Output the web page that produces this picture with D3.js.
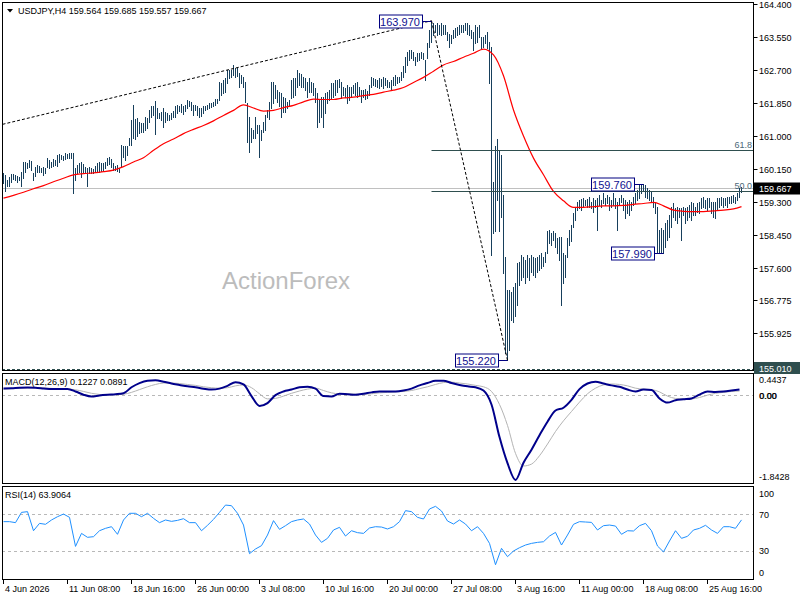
<!DOCTYPE html>
<html><head><meta charset="utf-8">
<script src="https://cdn.jsdelivr.net/npm/d3@7/dist/d3.min.js"></script>
<style>body{margin:0;background:#fff}svg{display:block}text{font-family:"Liberation Sans",Arial,sans-serif}</style>
</head><body>
<svg id="c" width="800" height="600"></svg>
<script>
const symbolTitle = "USDJPY,H4";
const lastOHLC = ["159.564", "159.685", "159.557", "159.667"];
const lastPrice = 159.667;

const barHigh = [
160.05,159.99,159.87,159.95,160.02,160.01,159.99,159.97,159.95,160.08,
160.34,160.34,160.31,160.38,160.36,160.05,160.21,160.24,160.23,160.17,
160.20,160.18,160.42,160.38,160.34,160.41,160.38,160.51,160.53,160.51,
160.49,160.55,160.54,160.57,160.55,160.55,160.17,160.25,160.31,160.34,
160.28,160.21,160.17,160.21,160.17,160.14,160.23,160.31,160.34,160.30,
160.31,160.34,160.42,160.45,160.40,160.30,160.23,160.25,160.17,160.77,
160.73,160.74,160.73,160.94,161.41,161.80,161.43,161.46,161.37,161.33,
161.34,161.50,161.46,161.67,161.77,161.76,161.90,161.71,161.60,161.63,
161.71,161.63,161.60,161.54,161.60,161.64,161.76,161.80,161.77,161.82,
161.77,161.80,161.93,161.89,
161.88,161.80,161.80,161.76,161.71,161.71,161.77,161.76,161.80,161.84,
161.86,161.88,161.94,161.94,162.40,162.37,162.44,162.49,162.70,162.70,
162.70,162.83,162.74,162.74,162.61,162.57,162.53,162.40,161.84,161.50,
161.20,161.15,161.50,161.28,161.28,161.15,161.37,161.54,161.67,161.88,
162.40,162.40,162.31,162.19,162.14,162.10,162.01,161.97,161.88,161.93,
162.44,162.49,162.49,162.70,162.61,162.60,162.53,162.49,162.40,162.49,
162.40,162.36,162.23,162.10,161.93,162.01,162.01,162.10,162.14,162.19,
162.36,162.36,162.44,162.44,162.46,162.40,162.27,162.23,162.31,162.27,
162.27,162.31,162.36,162.40,162.27,162.19,162.19,162.20,162.17,162.31,
162.53,162.49,
162.48,162.44,162.49,162.46,162.53,162.49,162.44,162.40,162.44,162.53,
162.57,162.53,162.53,162.66,162.79,163.04,163.17,163.22,163.22,163.17,
163.04,163.13,163.13,163.17,163.15,162.96,163.39,163.73,163.97,163.90,
163.86,163.90,163.86,163.90,163.86,163.86,163.69,163.64,163.60,163.73,
163.77,163.82,163.86,163.86,163.86,163.92,163.90,163.86,163.73,163.69,
163.86,163.82,163.86,163.56,163.56,163.60,163.69,163.43,163.30,
159.82,160.75,160.92,160.64,160.51,159.48,157.89,157.03,157.03,156.99,
157.12,157.20,157.72,157.76,157.93,157.89,157.81,157.93,157.85,157.93,
157.89,157.85,157.89,157.93,157.98,157.89,158.02,158.54,158.58,158.49,
158.54,158.49,158.36,158.41,158.41,
157.98,157.93,158.36,158.58,158.70,159.01,159.18,159.31,159.35,159.37,
159.40,159.35,159.37,159.44,159.31,159.40,159.35,159.40,159.48,159.35,
159.52,159.40,159.48,159.44,159.35,159.52,159.40,159.31,159.40,159.48,
159.40,159.35,159.31,159.35,159.31,159.44,159.52,159.61,159.74,159.74,
159.76,159.74,159.65,159.61,159.59,159.44,159.31,159.18,158.58,158.62,
158.58,158.75,158.84,158.97,159.18,159.27,159.14,159.18,159.14,159.14,
159.18,159.14,159.18,159.22,159.31,159.27,159.18,159.27,159.31,159.40,
159.44,159.35,159.40,159.40,159.31,159.31,159.31,159.40,159.40,159.44,
159.40,159.40,159.44,159.44,159.45,159.48,159.44,159.52,159.65,159.69
];
const barLow = [
159.78,159.57,159.70,159.70,159.82,159.88,159.87,159.82,159.87,159.70,
159.91,160.08,160.17,160.19,160.12,159.87,159.97,160.08,160.08,160.08,
159.99,160.04,160.21,160.17,160.21,160.23,160.25,160.23,160.34,160.40,
160.38,160.40,160.42,160.42,160.42,159.52,159.87,160.04,160.08,159.95,
160.04,160.04,159.70,160.04,160.04,160.04,160.06,160.11,160.08,160.11,
160.11,160.17,160.25,160.28,160.21,160.12,160.12,160.11,160.08,160.21,
160.47,160.38,160.51,160.77,160.77,160.94,160.91,161.00,161.07,161.11,
161.11,161.16,161.20,161.37,161.50,161.54,161.04,161.46,161.46,161.41,
161.24,161.37,161.41,161.41,161.43,161.48,161.50,161.60,161.65,161.63,
161.57,161.65,161.71,161.76,
161.67,161.54,161.67,161.54,161.50,161.51,161.58,161.67,161.69,161.71,
161.74,161.76,161.80,161.84,161.93,162.06,162.10,162.14,162.36,162.49,
162.53,162.57,162.53,162.55,162.25,162.36,162.27,161.88,160.85,160.60,
160.85,160.94,160.94,161.07,160.45,160.90,161.11,161.15,161.50,161.45,
161.71,161.84,161.97,161.88,161.76,161.50,161.63,161.63,161.71,161.76,
161.97,162.01,162.06,162.27,162.31,162.27,162.27,162.19,162.01,162.14,
162.14,162.06,161.88,161.24,161.37,161.50,161.24,161.58,161.84,161.93,
161.97,162.01,162.06,162.14,162.27,161.97,162.06,162.01,161.84,161.93,
162.01,162.10,162.06,162.01,162.06,161.88,162.01,161.94,161.97,162.06,
162.27,162.31,
162.29,162.27,162.23,162.29,162.23,162.31,162.27,162.27,162.19,162.31,
162.31,162.36,162.40,162.44,162.53,162.66,162.83,162.96,163.00,162.96,
162.83,162.92,162.96,163.00,162.98,162.45,163.00,163.30,163.43,163.60,
163.69,163.60,163.64,163.60,163.64,163.64,163.47,163.30,163.39,163.52,
163.56,163.60,163.64,163.69,163.69,163.73,163.64,163.60,163.52,163.22,
163.39,163.43,163.56,163.26,163.30,163.39,163.26,162.36,157.93,
158.49,158.54,159.35,158.54,158.92,157.46,155.40,155.22,155.49,156.26,
156.22,156.35,156.65,157.16,157.29,157.38,157.21,157.38,157.29,157.50,
157.42,157.38,157.50,157.55,157.59,157.64,157.76,157.98,158.24,158.19,
158.32,158.15,157.98,157.81,156.65,
157.21,157.38,157.89,158.19,158.30,158.66,158.84,159.09,159.14,159.09,
159.18,159.22,159.18,159.18,159.14,159.05,159.18,158.58,159.22,159.18,
159.27,159.22,159.27,159.09,159.18,159.22,159.14,158.58,159.22,159.31,
159.09,158.88,159.01,158.97,159.09,159.22,159.27,159.35,159.39,159.52,
159.57,159.44,159.40,159.35,159.31,159.18,159.01,158.02,158.02,158.02,
157.99,158.15,158.32,158.41,158.66,158.92,158.84,158.75,158.92,158.32,
158.97,158.75,158.84,158.92,158.84,158.97,158.97,159.05,159.01,159.14,
159.18,159.14,159.09,159.18,159.01,158.92,158.88,159.09,159.18,159.22,
159.18,159.22,159.18,159.27,159.27,159.31,159.27,159.35,159.42,159.56
];

// moving average (red), read every 5 bars, last value at final bar
const maValues = [
159.40,159.47,159.55,159.64,159.72,159.82,159.91,160.00,160.03,160.05,
160.08,160.12,160.21,160.33,160.44,160.63,160.80,160.92,161.06,161.17,
161.27,161.39,161.53,161.66,161.80,161.72,161.64,161.66,161.73,161.79,
161.88,161.95,161.94,161.94,161.98,162.00,162.04,162.07,162.13,162.18,
162.25,162.38,162.51,162.67,162.83,162.92,163.03,163.13,163.24,163.09,
162.55,161.67,161.00,160.43,160.00,159.57,159.33,159.16,159.16,159.18,
159.20,159.20,159.21,159.24,159.26,159.29,159.20,159.09,159.06,159.05,
159.05,159.07,159.09,159.12,159.18
];
// MACD(12,26,9), read every 4 bars
const macdMain = [
0.145,0.15,0.16,0.165,0.16,0.145,0.13,0.13,0.13,0.08,
0.01,-0.03,-0.005,0.01,0.02,0.04,0.17,0.26,0.31,0.32,
0.29,0.25,0.22,0.19,0.17,0.14,0.12,0.14,0.20,0.28,
0.23,-0.02,-0.23,-0.17,0.0,0.08,0.12,0.17,0.18,0.14,
-0.02,-0.03,0.03,0.02,0.01,0.03,0.06,0.08,0.08,0.08,
0.10,0.14,0.21,0.26,0.31,0.31,0.26,0.22,0.19,0.17,
0.10,-0.2,-0.9,-1.46,-1.82,-1.45,-1.17,-0.86,-0.57,-0.33,
-0.27,-0.1,0.13,0.25,0.29,0.25,0.21,0.18,0.12,0.08,
0.12,0.11,-0.07,-0.16,-0.11,-0.09,-0.07,0.01,0.08,0.07,
0.08,0.10,0.1227
];
const macdSignal = [
0.13,0.14,0.15,0.155,0.16,0.155,0.145,0.135,0.13,0.115,
0.08,0.04,0.015,0.005,0.01,0.02,0.06,0.12,0.18,0.23,
0.26,0.26,0.25,0.23,0.21,0.18,0.16,0.15,0.16,0.2,
0.22,0.16,0.03,-0.08,-0.07,-0.02,0.04,0.09,0.13,0.15,
0.10,0.05,0.03,0.03,0.02,0.02,0.03,0.05,0.06,0.07,
0.08,0.10,0.14,0.18,0.23,0.27,0.28,0.26,0.24,0.21,
0.18,0.08,-0.2,-0.65,-1.25,-1.52,-1.48,-1.3,-1.05,-0.78,
-0.55,-0.35,-0.15,0.03,0.15,0.22,0.24,0.23,0.2,0.15,
0.13,0.12,0.07,-0.02,-0.07,-0.08,-0.08,-0.05,0.0,0.04,
0.06,0.08,0.0891
];
const macdRangeLabels = ["0.4437", "0.00", "-1.8428"];
const macdRange = [-1.8428, 0.4437];
// RSI(14), read every 3 bars
const rsiValues = [
62.0,62.0,60.9,72.1,72.9,52.1,60.1,59.1,63.8,67.4,
70.3,66.7,35.0,49.2,44.9,45.6,52.1,54.7,56.5,48.2,
63.8,71.1,71.1,67.4,71.1,65.6,60.9,63.8,62.3,63.4,
65.2,60.9,60.9,52.1,58.0,64.5,72.1,80.1,79.4,71.1,
58.3,27.1,32.2,35.8,47.4,63.1,53.6,57.6,62.0,63.8,
64.9,59.4,47.4,39.4,43.8,52.9,55.8,46.3,52.1,50.0,
49.2,55.1,56.5,56.1,54.0,56.5,62.0,74.0,72.9,66.7,
64.9,75.8,78.7,73.6,62.7,59.4,63.8,59.4,52.1,56.5,
49.2,38.3,15.0,32.9,23.8,30.0,33.6,36.5,38.3,39.4,
40.1,46.3,50.3,36.5,47.4,59.1,62.0,61.6,61.2,52.9,
57.6,58.3,57.2,48.2,52.1,51.8,57.6,60.1,52.1,35.4,
29.0,40.9,52.1,43.8,46.0,52.9,54.7,58.0,52.9,49.2,
56.5,56.5,54.7,63.9064
];
const rsiLevels = [70, 30];
const rsiTickLabels = ["100", "70", "30", "0"];

const priceTicks = [164.4, 163.55, 162.7, 161.85, 161.0, 160.15, 159.3, 158.45, 157.6, 156.775, 155.925];
const timeLabels = ["4 Jun 2026","11 Jun 08:00","18 Jun 16:00","26 Jun 00:00","3 Jul 08:00","10 Jul 16:00","20 Jul 00:00","27 Jul 08:00","3 Aug 16:00","11 Aug 00:00","18 Aug 08:00","25 Aug 16:00"];
const timeLabelBars = [0,32,64,96,128,160,192,224,256,288,320,352];

const swingPoints = [
  {bar: 214, price: 163.970},
  {bar: 252, price: 155.220},
  {bar: 320, price: 159.760},
  {bar: 330, price: 157.990}
];
const fibAnchors = [{bar: 214, price: 163.97}, {bar: 252, price: 155.22}];
const fibLevels = [61.8, 50.0];
const trendLine = [{bar: -0.5, price: 161.30}, {bar: 214, price: 163.97}];
const supportLevel = 155.010;

// ---------- drawing ----------
const N = barHigh.length;
const svg = d3.select("#c");
const x = d3.scaleLinear().domain([0, 369]).range([3.5, 741.5]);
const yP = d3.scaleLinear().domain([155.01, 164.4]).range([368.5, 4]);
const yM = d3.scaleLinear().domain(macdRange).range([481, 374.5]);
const yR = d3.scaleLinear().domain([0, 100]).range([578.5, 486.8]);
const AX = 753.5;
const panels = [{id:"pm", t:2.5, b:370.5}, {id:"pd", t:373.5, b:483.5}, {id:"pr", t:486.5, b:579.5}];

const defs = svg.append("defs");
panels.forEach(p => defs.append("clipPath").attr("id", p.id).append("rect")
  .attr("x", 3).attr("y", p.t + 0.5).attr("width", AX - 3.5).attr("height", p.b - p.t - 1));

svg.append("rect").attr("width", 800).attr("height", 600).attr("fill", "#fff");

// main panel contents
const gm = svg.append("g").attr("clip-path", "url(#pm)");
// bid line
gm.append("line").attr("x1", 2).attr("x2", AX).attr("y1", Math.round(yP(lastPrice)) + 0.5).attr("y2", Math.round(yP(lastPrice)) + 0.5)
  .attr("stroke", "#c0c0c0");
// support dashed line
gm.append("line").attr("x1", 2).attr("x2", AX).attr("y1", Math.round(yP(supportLevel)) + 0.5).attr("y2", Math.round(yP(supportLevel)) + 0.5)
  .attr("stroke", "#2f4f4f").attr("stroke-dasharray", "3,2");
// watermark
gm.append("text").attr("x", 222).attr("y", 289).attr("font-size", 24).attr("fill", "#bcbcbc").text("ActionForex");
// bars
gm.append("g").selectAll("line").data(d3.range(N)).join("line")
  .attr("x1", i => x(i)).attr("x2", i => x(i))
  .attr("y1", i => Math.round(yP(barHigh[i]))).attr("y2", i => Math.round(yP(barLow[i])) + 1)
  .attr("stroke", "#173f5c").attr("stroke-width", 1).attr("shape-rendering", "crispEdges");
// MA
const maBars = d3.range(0, 366, 5).concat([369]);
gm.append("path").datum(maValues.map((v, k) => [maBars[k], v]))
  .attr("d", d3.line().x(d => x(d[0])).y(d => yP(d[1])).curve(d3.curveMonotoneX))
  .attr("fill", "none").attr("stroke", "#ff0000").attr("stroke-width", 1.2);
// fib levels
const fHi = fibAnchors[0].price, fLo = fibAnchors[1].price;
fibLevels.forEach(lv => {
  const p = fLo + (fHi - fLo) * lv / 100;
  const yy = Math.round(yP(p)) + 0.5;
  gm.append("line").attr("x1", x(fibAnchors[0].bar)).attr("x2", AX).attr("y1", yy).attr("y2", yy)
    .attr("stroke", "#2f4f4f").attr("stroke-width", 1);
  gm.append("text").attr("x", 752).attr("y", yy - 3).attr("text-anchor", "end").attr("font-size", 9)
    .attr("fill", "#4a6878").text(lv.toFixed(1));
});
// fib base dotted line
gm.append("line").attr("x1", x(fibAnchors[0].bar)).attr("y1", yP(fibAnchors[0].price))
  .attr("x2", x(fibAnchors[1].bar)).attr("y2", yP(fibAnchors[1].price))
  .attr("stroke", "#000").attr("stroke-dasharray", "3,2");
// trend line
gm.append("line").attr("x1", x(trendLine[0].bar)).attr("y1", yP(trendLine[0].price))
  .attr("x2", x(trendLine[1].bar)).attr("y2", yP(trendLine[1].price))
  .attr("stroke", "#000").attr("stroke-dasharray", "3,2");
// swing labels
swingPoints.forEach(s => {
  const bx = x(s.bar) - 10, yy = Math.round(yP(s.price)) + 0.5;
  gm.append("line").attr("x1", bx).attr("x2", x(s.bar)).attr("y1", yy).attr("y2", yy).attr("stroke", "#000080");
  gm.append("rect").attr("x", Math.round(bx - 43) + 0.5).attr("y", yy - 6.5).attr("width", 43).attr("height", 13)
    .attr("fill", "#fff").attr("stroke", "#000080");
  gm.append("text").attr("x", bx - 21.5).attr("y", yy + 4).attr("text-anchor", "middle").attr("font-size", 11)
    .attr("fill", "#101090").text(s.price.toFixed(3));
});

// MACD panel
const gd = svg.append("g").attr("clip-path", "url(#pd)");
gd.append("line").attr("x1", 2).attr("x2", AX).attr("y1", Math.round(yM(0)) + 0.5).attr("y2", Math.round(yM(0)) + 0.5)
  .attr("stroke", "#b8b8b8").attr("stroke-dasharray", "3,3");
const bars4 = k => x(k * 4);
gd.append("path").datum(macdSignal).attr("d", d3.line().x((d, k) => bars4(k)).y(d => yM(d)).curve(d3.curveMonotoneX))
  .attr("fill", "none").attr("stroke", "#b4b4b4").attr("stroke-width", 1);
gd.append("path").datum(macdMain).attr("d", d3.line().x((d, k) => bars4(k)).y(d => yM(d)).curve(d3.curveMonotoneX))
  .attr("fill", "none").attr("stroke", "#00008b").attr("stroke-width", 2);
svg.append("text").attr("x", 5).attr("y", 385).attr("font-size", 9).attr("fill", "#000")
  .text("MACD(12,26,9) " + macdMain[macdMain.length - 1].toFixed(4) + " " + macdSignal[macdSignal.length - 1].toFixed(4));

// RSI panel
const gr = svg.append("g").attr("clip-path", "url(#pr)");
rsiLevels.forEach(l => gr.append("line").attr("x1", 2).attr("x2", AX)
  .attr("y1", Math.round(yR(l)) + 0.5).attr("y2", Math.round(yR(l)) + 0.5)
  .attr("stroke", "#b8b8b8").attr("stroke-dasharray", "3,3"));
gr.append("path").datum(rsiValues).attr("d", d3.line().x((d, k) => x(Math.min(k * 3, 369))).y(d => yR(d)))
  .attr("fill", "none").attr("stroke", "#1e90ff").attr("stroke-width", 1);
svg.append("text").attr("x", 5).attr("y", 498).attr("font-size", 9).attr("fill", "#000")
  .text("RSI(14) " + rsiValues[rsiValues.length - 1].toFixed(4));

// panel frames
panels.forEach(p => svg.append("rect").attr("x", 2.5).attr("y", p.t).attr("width", AX - 2.5).attr("height", p.b - p.t)
  .attr("fill", "none").attr("stroke", "#000").attr("shape-rendering", "crispEdges"));

// right price axis
const ax = svg.append("g");
priceTicks.forEach(t => {
  const yy = Math.round(yP(t)) + 0.5;
  ax.append("line").attr("x1", AX).attr("x2", AX + 4).attr("y1", yy).attr("y2", yy).attr("stroke", "#000");
  ax.append("text").attr("x", 759).attr("y", yy + 3.5).attr("font-size", 9).attr("fill", "#000").text(t.toFixed(3));
});
function tag(val, fill, yy) {
  ax.append("rect").attr("x", AX + 0.5).attr("y", yy - 6).attr("width", 46).attr("height", 12).attr("fill", fill);
  ax.append("text").attr("x", 759).attr("y", yy + 3.5).attr("font-size", 9).attr("fill", "#fff").text(val.toFixed(3));
}
tag(lastPrice, "#000", Math.round(yP(lastPrice)) + 0.5);
tag(supportLevel, "#2f4f4f", 368);

// MACD axis labels
[[macdRangeLabels[0], 379], [macdRangeLabels[2], 476]].forEach(d =>
  ax.append("text").attr("x", 759).attr("y", d[1] + 3.5).attr("font-size", 9).attr("fill", "#000").text(d[0]));
[0, 0.5].forEach(o => ax.append("text").attr("x", 759 + o).attr("y", Math.round(yM(0)) + 4).attr("font-size", 9)
  .attr("fill", "#000").text(macdRangeLabels[1]));
// RSI axis labels
[[rsiTickLabels[0], 493], [rsiTickLabels[1], yR(70)], [rsiTickLabels[2], yR(30)], [rsiTickLabels[3], 572.5]].forEach(d =>
  ax.append("text").attr("x", 759).attr("y", d[1] + 3.5).attr("font-size", 9).attr("fill", "#000").text(d[0]));

// time axis
timeLabels.forEach((lab, k) => {
  const xx = Math.round(x(timeLabelBars[k])) - 0.5;
  ax.append("line").attr("x1", xx).attr("x2", xx).attr("y1", 579.5).attr("y2", 584).attr("stroke", "#000");
  ax.append("text").attr("x", xx + 1.5).attr("y", 592).attr("font-size", 9).attr("fill", "#000").text(lab);
});

// title
svg.append("path").attr("d", "M7,9 L13,9 L10,12.5 Z").attr("fill", "#000");
svg.append("text").attr("x", 18).attr("y", 14).attr("font-size", 9).attr("fill", "#000")
  .text(symbolTitle + "  " + lastOHLC.join(" "));
</script>
</body></html>
